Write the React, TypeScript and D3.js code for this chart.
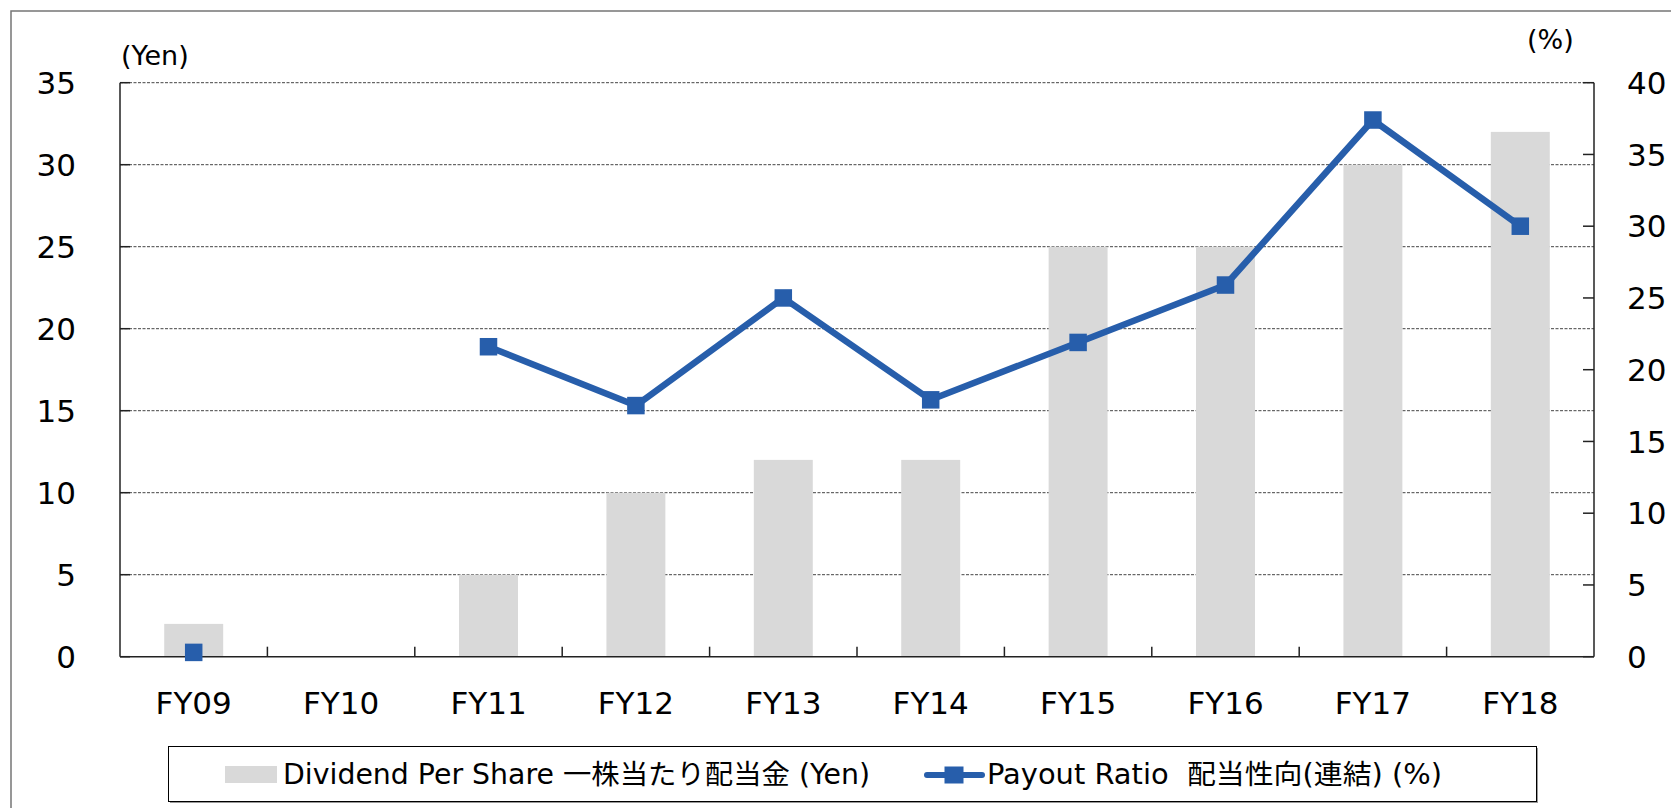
import React, { useEffect, useRef } from 'react';
import * as d3 from 'd3';

const categories = ['FY09', 'FY10', 'FY11', 'FY12', 'FY13', 'FY14', 'FY15', 'FY16', 'FY17', 'FY18'];
const dividend = [2, 0, 5, 10, 12, 12, 25, 25, 30, 32];
const payout: (number | null)[] = [0.3, null, 21.6, 17.5, 25.0, 17.9, 21.9, 25.9, 37.4, 30.0];
const leftTicks = [0, 5, 10, 15, 20, 25, 30, 35];
const rightTicks = [0, 5, 10, 15, 20, 25, 30, 35, 40];

const W = 1671;
const H = 808;
const plot = { left: 120, right: 1594, top: 82.7, bottom: 656.7 };
const FONT = '"DejaVu Sans", Verdana, "Noto Sans CJK JP", sans-serif';
const BLUE = '#275EAB';
const GREY = '#D9D9D9';

const App = () => {
  const ref = useRef<SVGSVGElement>(null);

  useEffect(() => {
    const svg = d3.select(ref.current);
    svg.selectAll('*').remove();

    const x = d3.scaleBand<string>()
      .domain(categories)
      .range([plot.left, plot.right])
      .padding(0);
    const yL = d3.scaleLinear().domain([0, 35]).range([plot.bottom, plot.top]);
    const yR = d3.scaleLinear().domain([0, 40]).range([plot.bottom, plot.top]);

    // outer frame
    svg.append('rect')
      .attr('x', 11).attr('y', 11)
      .attr('width', W).attr('height', H)
      .attr('fill', 'none').attr('stroke', '#767676').attr('stroke-width', 1.5);

    // gridlines
    svg.append('g')
      .selectAll('line')
      .data(leftTicks.filter(d => d > 0))
      .enter()
      .append('line')
      .attr('x1', plot.left).attr('x2', plot.right)
      .attr('y1', d => yL(d)).attr('y2', d => yL(d))
      .attr('stroke', '#444').attr('stroke-width', 1)
      .attr('stroke-dasharray', '3,1.5');

    // bars
    const bw = x.bandwidth() * 0.4;
    svg.append('g')
      .selectAll('rect')
      .data(dividend)
      .enter()
      .append('rect')
      .attr('x', (d, i) => (x(categories[i]) as number) + (x.bandwidth() - bw) / 2)
      .attr('y', d => yL(d))
      .attr('width', bw)
      .attr('height', d => plot.bottom - yL(d))
      .attr('fill', GREY);

    // axes
    const axisColor = '#222';
    const axG = svg.append('g').attr('stroke', axisColor).attr('stroke-width', 1.5);
    axG.append('line').attr('x1', plot.left).attr('x2', plot.left).attr('y1', plot.top).attr('y2', plot.bottom);
    axG.append('line').attr('x1', plot.right).attr('x2', plot.right).attr('y1', plot.top).attr('y2', plot.bottom);
    axG.append('line').attr('x1', plot.left).attr('x2', plot.right).attr('y1', plot.bottom).attr('y2', plot.bottom);
    axG.selectAll('.lt').data(leftTicks).enter().append('line')
      .attr('x1', plot.left).attr('x2', plot.left + 10)
      .attr('y1', d => yL(d)).attr('y2', d => yL(d));
    axG.selectAll('.rt').data(rightTicks).enter().append('line')
      .attr('x1', plot.right - 11).attr('x2', plot.right)
      .attr('y1', d => yR(d)).attr('y2', d => yR(d));
    axG.selectAll('.bt').data(categories.slice(1)).enter().append('line')
      .attr('x1', d => x(d) as number).attr('x2', d => x(d) as number)
      .attr('y1', plot.bottom - 10).attr('y2', plot.bottom);

    // tick labels
    svg.append('g')
      .selectAll('text')
      .data(leftTicks)
      .enter()
      .append('text')
      .attr('x', 76).attr('y', d => yL(d))
      .attr('dy', '0.36em')
      .attr('text-anchor', 'end')
      .attr('font-size', 31).attr('font-family', FONT).attr('fill', '#000')
      .text(d => d);
    svg.append('g')
      .selectAll('text')
      .data(rightTicks)
      .enter()
      .append('text')
      .attr('x', 1627).attr('y', d => yR(d))
      .attr('dy', '0.36em')
      .attr('text-anchor', 'start')
      .attr('font-size', 31).attr('font-family', FONT).attr('fill', '#000')
      .text(d => d);
    svg.append('g')
      .selectAll('text')
      .data(categories)
      .enter()
      .append('text')
      .attr('x', d => (x(d) as number) + x.bandwidth() / 2)
      .attr('y', 714)
      .attr('text-anchor', 'middle')
      .attr('font-size', 31).attr('font-family', FONT).attr('fill', '#000')
      .text(d => d);

    svg.append('text').attr('x', 121).attr('y', 65)
      .attr('font-size', 27).attr('font-family', FONT).text('(Yen)');
    svg.append('text').attr('x', 1527).attr('y', 49)
      .attr('font-size', 27).attr('font-family', FONT).text('(%)');

    // payout line
    const line = d3.line<number | null>()
      .defined(d => d != null)
      .x((d, i) => (x(categories[i]) as number) + x.bandwidth() / 2)
      .y(d => yR(d as number));
    svg.append('path')
      .datum(payout)
      .attr('d', line)
      .attr('fill', 'none')
      .attr('stroke', BLUE)
      .attr('stroke-width', 6.5)
      .attr('stroke-linejoin', 'round');
    const ms = 17.5;
    svg.append('g')
      .selectAll('rect')
      .data(payout.map((v, i) => ({ v, c: categories[i] })).filter(d => d.v != null))
      .enter()
      .append('rect')
      .attr('x', d => (x(d.c) as number) + x.bandwidth() / 2 - ms / 2)
      .attr('y', d => yR(d.v as number) - ms / 2)
      .attr('width', ms).attr('height', ms)
      .attr('fill', BLUE);

    // legend
    const lg = svg.append('g');
    lg.append('rect').attr('x', 170).attr('y', 748).attr('width', 1368).attr('height', 55).attr('fill', '#999');
    lg.append('rect').attr('x', 168.5).attr('y', 746.5).attr('width', 1368).attr('height', 55)
      .attr('fill', '#fff').attr('stroke', '#000').attr('stroke-width', 1);
    lg.append('rect').attr('x', 225).attr('y', 766).attr('width', 52).attr('height', 17).attr('fill', GREY);
    lg.append('text').attr('x', 283).attr('y', 784)
      .attr('font-size', 27.5).attr('font-family', FONT)
      .attr('textLength', 587).attr('lengthAdjust', 'spacingAndGlyphs')
      .text('Dividend Per Share 一株当たり配当金 (Yen)');
    lg.append('line').attr('x1', 927).attr('x2', 982).attr('y1', 775).attr('y2', 775)
      .attr('stroke', BLUE).attr('stroke-width', 6).attr('stroke-linecap', 'round');
    lg.append('rect').attr('x', 944.5).attr('y', 766.5).attr('width', 19).attr('height', 17).attr('fill', BLUE);
    lg.append('text').attr('x', 987).attr('y', 784)
      .attr('font-size', 27.5).attr('font-family', FONT)
      .attr('xml:space', 'preserve')
      .attr('textLength', 455).attr('lengthAdjust', 'spacingAndGlyphs')
      .text('Payout Ratio  配当性向(連結) (%)');
  }, []);

  return (
    <svg ref={ref} width={W} height={H} style={{ position: 'absolute', left: 0, top: 0, display: 'block', background: '#fff' }}></svg>
  );
};

export default App;
